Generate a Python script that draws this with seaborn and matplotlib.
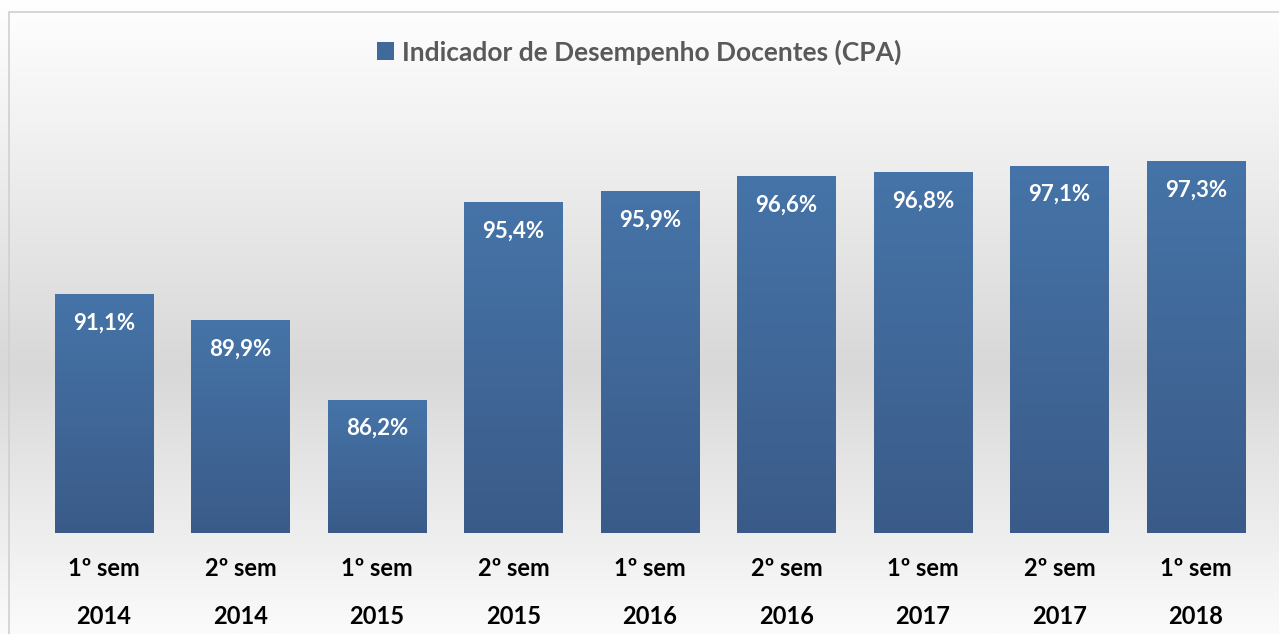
import numpy as np
import pandas as pd
import matplotlib
matplotlib.use("Agg")
import matplotlib.pyplot as plt
import seaborn as sns
from matplotlib.colors import LinearSegmentedColormap
from matplotlib.patches import Patch, Rectangle
from matplotlib.transforms import blended_transform_factory

# Data
semesters = ["1º sem", "2º sem", "1º sem", "2º sem", "1º sem", "2º sem", "1º sem", "2º sem", "1º sem"]
years = ["2014", "2014", "2015", "2015", "2016", "2016", "2017", "2017", "2018"]
values = [91.1, 89.9, 86.2, 95.4, 95.9, 96.6, 96.8, 97.1, 97.3]
series_name = "Indicador de Desempenho Docentes (CPA)"

df = pd.DataFrame({
    "periodo": [f"{s} {y}" for s, y in zip(semesters, years)],
    "valor": values,
})

sns.set_theme(style="white")
plt.rcParams["font.family"] = ["Lato", "DejaVu Sans"]

W, H = 1279, 634
fig = plt.figure(figsize=(W / 100, H / 100), dpi=100)

# Background: vertical white -> gray -> white gradient
bg = fig.add_axes([0, 0, 1, 1], zorder=-5)
bg.axis("off")
bg_cmap = LinearSegmentedColormap.from_list(
    "bg", [(0.0, "#ffffff"), (0.58, "#d8d8d8"), (1.0, "#fbfbfb")])
bg.imshow(np.linspace(0, 1, 512).reshape(-1, 1), extent=[0, 1, 0, 1],
          origin="upper", aspect="auto", cmap=bg_cmap)
bg.set_xlim(0, 1)
bg.set_ylim(0, 1)
bg.add_patch(Rectangle((9 / W, -0.05), 1.2, (H - 12) / H + 0.05,
                       fill=False, edgecolor="#d0d0d0", lw=1.2))

# Main plot area
ax = fig.add_axes([35.75 / W, 101 / H, 1228.5 / W, 429 / H])
ax.set_facecolor("none")
sns.barplot(data=df, x="periodo", y="valor", ax=ax, width=0.72,
            color="#41699c", saturation=1)

ymin, ymax = 80, 100
bar_cmap = LinearSegmentedColormap.from_list("bar", ["#4674a8", "#3a5b89"])
grad = np.linspace(0, 1, 256).reshape(-1, 1)
for p in ax.patches:
    x0, w = p.get_x(), p.get_width()
    top = p.get_y() + p.get_height()
    ax.imshow(grad, extent=[x0, x0 + w, ymin, top], origin="upper",
              aspect="auto", cmap=bar_cmap, zorder=2)
    p.set_visible(False)
    label = f"{top:.1f}".replace(".", ",") + "%"
    ax.annotate(label, xy=(x0 + w / 2, top), xytext=(0, -20.5),
                textcoords="offset points", ha="center", va="center",
                color="white", fontweight="bold", fontsize=16, zorder=3)

ax.set_xlim(-0.5, len(values) - 0.5)
ax.set_ylim(ymin, ymax)
for s in ax.spines.values():
    s.set_visible(False)
ax.set_yticks([])
ax.set_xlabel("")
ax.set_ylabel("")
ax.set_xticks(range(len(semesters)))
ax.set_xticklabels(semesters, fontsize=17, fontweight="bold", color="black")
ax.tick_params(axis="x", length=0, pad=17)

trans = blended_transform_factory(ax.transData, fig.transFigure)
for i, y in enumerate(years):
    ax.text(i, (H - 617) / H, y, transform=trans, ha="center", va="center",
            fontsize=17, fontweight="bold", color="black")

fig.legend(handles=[Patch(facecolor="#41699c", edgecolor="none")],
           labels=[series_name], loc="center",
           bbox_to_anchor=(0.5, (H - 52) / H), frameon=False,
           prop={"weight": "bold", "size": 19}, labelcolor="#595959",
           handlelength=0.65, handleheight=0.65, handletextpad=0.3)

fig.savefig("out.png", dpi=100)
